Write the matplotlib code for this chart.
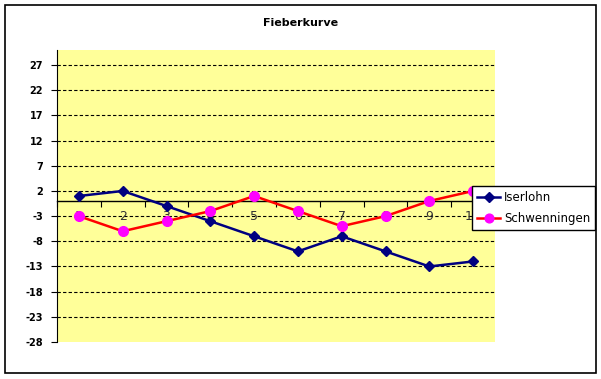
import numpy as np
import matplotlib
matplotlib.use('Agg')
import matplotlib.pyplot as plt
from matplotlib.patches import Rectangle

# ============================================================
# Data
# ============================================================
days = [1, 2, 3, 4, 5, 6, 7, 8, 9, 10]
iserlohn = [1, 2, -1, -4, -7, -10, -7, -10, -13, -12]
schwenningen = [-3, -6, -4, -2, 1, -2, -5, -3, 0, 2]
y_ticks = [27, 22, 17, 12, 7, 2, -3, -8, -13, -18, -23, -28]

W, H = 601, 379
fig = plt.figure(figsize=(W / 100, H / 100), dpi=100)

# outer chart border
fig.patches.append(Rectangle((5 / W, 1 - 373 / H), 591 / W, 368 / H,
                             transform=fig.transFigure, fill=False,
                             edgecolor='black', linewidth=1.2))

ax = fig.add_axes([57 / W, 1 - 342 / H, (495 - 57) / W, (342 - 50) / H])
ax.set_facecolor('#FFFF99')

ax.plot(days, iserlohn, color='#000080', marker='D', markersize=5.5,
        linewidth=1.8, label='Iserlohn', zorder=4)
ax.plot(days, schwenningen, color='#FF0000', marker='o', markersize=7,
        markerfacecolor='#FF00FF', markeredgecolor='#FF00FF',
        linewidth=1.8, label='Schwenningen', zorder=4)

ax.set_xlim(0.5, 10.5)
ax.set_ylim(-28, 30)

# y axis
ax.set_yticks(y_ticks)
ax.set_yticklabels([str(t) for t in y_ticks], fontsize=7, fontweight='bold')
ax.tick_params(axis='y', direction='out', length=4, width=0.8, pad=6)
for t in y_ticks[:-1]:
    ax.axhline(t, color='black', linestyle=(0, (3, 2)), linewidth=0.8, zorder=1)

# x axis crossing at 0, ticks between categories
ax.spines['bottom'].set_position(('data', 0))
ax.spines['top'].set_visible(False)
ax.spines['right'].set_visible(False)
ax.spines['left'].set_linewidth(0.8)
ax.spines['bottom'].set_linewidth(1.0)
ax.set_xticks(np.arange(0.5, 11, 1))
ax.set_xticklabels([])
ax.tick_params(axis='x', direction='out', length=4, width=0.8)
for d in days:
    ax.text(d, -3, str(d), ha='center', va='center', fontsize=9,
            color='#333333', zorder=3)

fig.text(0.5, 1 - 23 / H, 'Fieberkurve', ha='center', va='center',
         fontsize=8, fontweight='bold')

leg = fig.legend(loc='upper left', bbox_to_anchor=(472 / W, 1 - 186 / H),
                 fontsize=8.5, frameon=True, fancybox=False, borderpad=0.4,
                 handlelength=2.0, handletextpad=0.3, labelspacing=0.7,
                 borderaxespad=0, markerscale=0.9)
leg.get_frame().set_edgecolor('black')
leg.get_frame().set_linewidth(1.0)
leg.get_frame().set_alpha(1)

plt.savefig('out.png', dpi=100)
